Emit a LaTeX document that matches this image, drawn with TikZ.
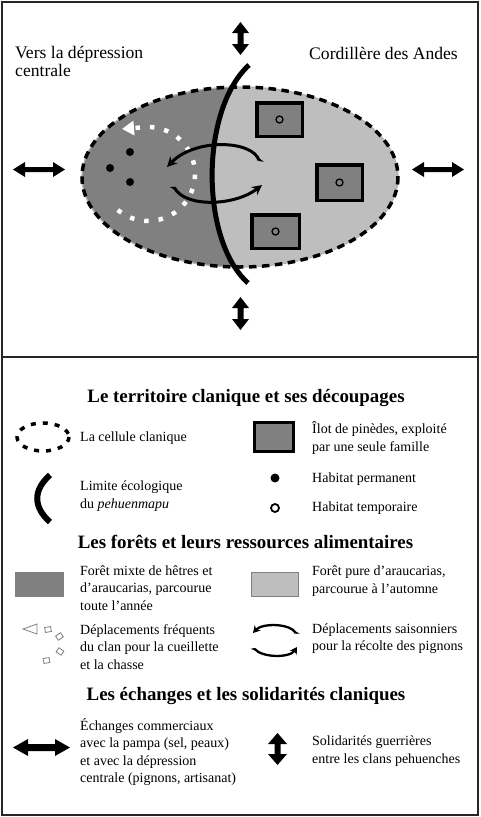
\documentclass[tikz,border=0pt]{standalone}
\usepackage{fontspec}
\setmainfont{Liberation Serif}
\usetikzlibrary{arrows.meta}
\definecolor{darkg}{HTML}{808080}
\definecolor{lightg}{HTML}{BEBEBE}
\tikzset{
  pics/fatarrow/.style n args={4}{code={
    \fill (-#1,0) -- (-#1+#2,-#3) -- (-#1+#2,-#4) -- (#1-#2,-#4) -- (#1-#2,-#3) -- (#1,0)
      -- (#1-#2,#3) -- (#1-#2,#4) -- (-#1+#2,#4) -- (-#1+#2,#3) -- cycle;}},
  lbl/.style={font=\fontsize{14pt}{17.5pt}\selectfont, align=left, anchor=west, inner sep=0pt},
  headlbl/.style={font=\fontsize{18.9pt}{21pt}\selectfont\bfseries, inner sep=0pt},
  toplbl/.style={font=\fontsize{17.6pt}{18pt}\selectfont, align=left, inner sep=0pt},
  pinebox/.style={draw=black, line width=3.5pt, fill=darkg, inner sep=0pt},
  habtemp/.style={circle, draw=black, line width=1.3pt, fill=darkg, minimum size=7pt, inner sep=0pt},
  clanline/.style={dash pattern=on 7.5pt off 5.5pt, line width=3.5pt},
  ecoline/.style={line width=5pt},
  seas/.style={line width=3pt, {Stealth[harpoon,reversed,length=6pt,width=8pt]}-{Stealth[length=10pt,width=10pt]}},
  seassmall/.style={line width=2.3pt, {Stealth[harpoon,reversed,length=4.5pt,width=6pt]}-{Stealth[length=7pt,width=8pt]}},
  freqsq/.style={draw=gray, fill=white, line width=0.8pt, minimum width=6pt, minimum height=5pt, inner sep=0pt},
}
\begin{document}
\begin{tikzpicture}[x=1pt,y=-1pt]
\useasboundingbox (0,0) rectangle (480,817);
\fill[white] (0,0) rectangle (480,817);
% frame
\draw[line width=2pt, black!85] (2,2) rectangle (478,815);
\draw[line width=2pt, black!85] (2,357) -- (478,357);

% ===== map =====
\fill[lightg] (240,177) ellipse (158 and 90);
\begin{scope}
  \clip (240,177) ellipse (158 and 90);
  \fill[darkg] (249,65) .. controls (200,110) and (200,240) .. (248,283) -- (248,420) -- (0,420) -- (0,-50) -- (249,-50) -- cycle;
\end{scope}
\draw[gray!60, line width=1.2pt] (240,177) ellipse (158 and 90);
\draw[clanline] (240,177) ellipse (158 and 90);

% pine islands
\node[pinebox, minimum width=45.5pt, minimum height=33.5pt] (b1) at (279.5,119.5) {};
\node[pinebox, minimum width=45.5pt, minimum height=35.5pt] (b2) at (339.5,182.5) {};
\node[pinebox, minimum width=47.5pt, minimum height=33.5pt] (b3) at (275.5,231.5) {};
\node[habtemp] (h1) at (b1) {};
\node[habtemp] (h2) at (b2) {};
\node[habtemp] (h3) at (b3) {};

% permanent habitats
\fill (130,152) circle (4pt);
\fill (110,168) circle (4pt);
\fill (130,182) circle (4pt);

% frequent displacements (white dotted arc)
\draw[white, line width=4.5pt, dash pattern=on 4.5pt off 10pt, -{Triangle[length=12pt,width=14pt]}]
  plot[domain=130:-92, samples=60, smooth] ({148+47*cos(\x)},{174+47*sin(\x)}) -- (122,129);

% ecological limit
\draw[ecoline] (249,65) .. controls (200,110) and (200,240) .. (248,283);

% seasonal displacements
\draw[seas] (260,163) .. controls (252,140) and (195,138) .. (167,167);
\draw[seas] (173,185) .. controls (185,208) and (235,206) .. (262,185);

% exchange arrows
\pic at (39,169.5) {fatarrow={26}{12}{7.5}{2.5}};
\pic at (438,169.5) {fatarrow={26}{12}{7.5}{2.5}};
\pic[rotate=90] at (240.5,38.5) {fatarrow={16.5}{11}{8.5}{3}};
\pic[rotate=90] at (240.5,313.5) {fatarrow={16.5}{11}{8.5}{3}};

% top labels
\node[toplbl, anchor=west] (vers) at (15,61.5) {Vers la dépression\\centrale};
\node[toplbl, anchor=east] (cord) at (458,53) {Cordillère des Andes};

% ===== legend =====
\node[headlbl] (h1title) at (246,398) {Le territoire clanique et ses découpages};
\draw[dash pattern=on 5pt off 7pt, line width=3.5pt] (43,437) ellipse (26 and 14);
\node[lbl] (lcell) at (80,438) {La cellule clanique};
\draw[line width=6pt] (50,475) .. controls (33,490) and (33,507) .. (50,522);
\node[lbl] (lecol) at (80,496) {Limite écologique\\du \textit{pehuenmapu}};
\node[pinebox, minimum width=39pt, minimum height=29pt] (lbox) at (274,437) {};
\node[lbl] (lilot) at (312,438) {Îlot de pinèdes, exploité\\par une seule famille};
\fill (275,478) circle (4.5pt);
\node[lbl] (lperm) at (312,479) {Habitat permanent};
\node[circle, draw=black, line width=1.8pt, fill=white, minimum size=8pt, inner sep=0pt] (ltemp) at (275,508) {};
\node[lbl] (ltempt) at (312,508) {Habitat temporaire};

\node[headlbl] (h2title) at (245.5,542) {Les forêts et leurs ressources alimentaires};
\node[draw=gray, fill=darkg, line width=0.8pt, minimum width=48pt, minimum height=24pt, inner sep=0pt] (ldark) at (39.5,584.5) {};
\node[lbl] (lmixte) at (80,588) {Forêt mixte de hêtres et\\d’araucarias, parcourue\\toute l’année};
\node[draw=gray, fill=lightg, line width=0.8pt, minimum width=47pt, minimum height=24pt, inner sep=0pt] (llight) at (275,584.5) {};
\node[lbl] (lpure) at (312,581) {Forêt pure d’araucarias,\\parcourue à l’automne};

\fill[white] (23,629) -- (37,624) -- (37,634) -- cycle;
\draw[gray, line width=0.8pt] (23,629) -- (37,624) -- (37,634) -- cycle;
\node[freqsq, rotate=10] (q1) at (48,629.5) {};
\node[freqsq, rotate=35] (q2) at (59.5,636.5) {};
\node[freqsq, rotate=-35] (q3) at (60,651.5) {};
\node[freqsq, rotate=10] (q4) at (46.5,660.5) {};
\node[lbl] (lfreq) at (80,647) {Déplacements fréquents\\du clan pour la cueillette\\et la chasse};
\draw[seassmall] (297,635) .. controls (290,623) and (262,623) .. (253,633);
\draw[seassmall] (253,647) .. controls (262,658) and (290,658) .. (297,647);
\node[lbl] (lseas) at (312,638.5) {Déplacements saisonniers\\pour la récolte des pignons};

\node[headlbl] (h3title) at (246,696) {Les échanges et les solidarités claniques};
\pic at (41.5,747.5) {fatarrow={28.5}{15}{8.5}{3.5}};
\node[lbl] (lech) at (80,752) {Échanges commerciaux\\avec la pampa (sel, peaux)\\et avec la dépression\\centrale (pignons, artisanat)};
\pic[rotate=90] at (277.5,749) {fatarrow={16}{11}{9.5}{3}};
\node[lbl] (lsol) at (312,751) {Solidarités guerrières\\entre les clans pehuenches};
\end{tikzpicture}
\end{document}
